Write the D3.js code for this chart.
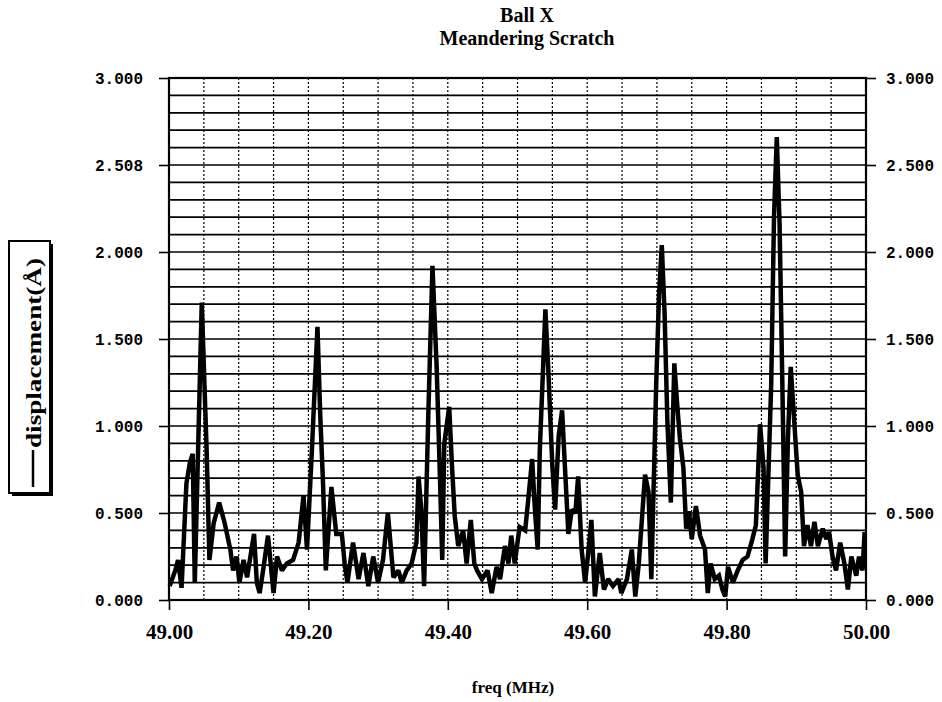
<!DOCTYPE html>
<html>
<head>
<meta charset="utf-8">
<script src="https://cdn.jsdelivr.net/npm/d3@7.9.0/dist/d3.min.js"></script>
<style>
  body { margin: 0; background: #fff; }
  svg { display: block; }
  .serif { font-family: "Liberation Serif", "Times New Roman", serif; font-weight: bold; }
  .mono { font-family: "Liberation Mono", "Courier New", monospace; font-weight: bold; }
</style>
</head>
<body>
<div id="chart"></div>
<script>
// values
const freq = [
  49.001, 49.009, 49.013, 49.018, 49.025, 49.030, 49.034, 49.037, 49.047, 49.054,
  49.058, 49.064, 49.072, 49.080, 49.088, 49.092, 49.097, 49.101, 49.107, 49.112,
  49.122, 49.126, 49.130, 49.135, 49.142, 49.150, 49.155, 49.162, 49.169, 49.178,
  49.186, 49.193, 49.198, 49.205, 49.213, 49.217, 49.221, 49.225, 49.233, 49.240,
  49.248, 49.252, 49.256, 49.264, 49.272, 49.279, 49.286, 49.293, 49.300, 49.307,
  49.314, 49.322, 49.329, 49.334, 49.341, 49.348, 49.355, 49.358, 49.362, 49.366,
  49.372, 49.378, 49.384, 49.389, 49.392, 49.395, 49.402, 49.406, 49.410, 49.415,
  49.422, 49.427, 49.433, 49.438, 49.442, 49.449, 49.457, 49.463, 49.470, 49.475,
  49.482, 49.487, 49.491, 49.496, 49.503, 49.511, 49.515, 49.521, 49.525, 49.529,
  49.532, 49.540, 49.544, 49.550, 49.554, 49.559, 49.564, 49.568, 49.573, 49.578,
  49.583, 49.587, 49.592, 49.597, 49.602, 49.606, 49.611, 49.618, 49.624, 49.630,
  49.637, 49.645, 49.649, 49.657, 49.664, 49.669, 49.674, 49.683, 49.688, 49.692,
  49.699, 49.703, 49.707, 49.711, 49.715, 49.720, 49.725, 49.729, 49.733, 49.738,
  49.742, 49.746, 49.750, 49.756, 49.762, 49.769, 49.773, 49.777, 49.783, 49.789,
  49.794, 49.798, 49.802, 49.809, 49.816, 49.823, 49.830, 49.837, 49.842, 49.848,
  49.853, 49.856, 49.864, 49.868, 49.872, 49.876, 49.880, 49.884, 49.888, 49.892,
  49.897, 49.902, 49.907, 49.911, 49.916, 49.921, 49.926, 49.931, 49.938, 49.943,
  49.947, 49.952, 49.957, 49.963, 49.969, 49.974, 49.979, 49.986, 49.990, 49.995,
  49.998
];
const displacement = [
  0.08, 0.17, 0.23, 0.07, 0.67, 0.79, 0.84, 0.10, 1.71, 0.86,
  0.23, 0.44, 0.56, 0.44, 0.29, 0.17, 0.25, 0.10, 0.23, 0.13,
  0.38, 0.10, 0.04, 0.17, 0.37, 0.04, 0.25, 0.17, 0.21, 0.23,
  0.33, 0.60, 0.29, 0.86, 1.57, 1.06, 0.67, 0.17, 0.65, 0.38,
  0.38, 0.21, 0.10, 0.33, 0.12, 0.27, 0.08, 0.25, 0.10, 0.23,
  0.50, 0.13, 0.17, 0.10, 0.17, 0.21, 0.33, 0.71, 0.52, 0.08,
  1.06, 1.92, 1.34, 0.67, 0.23, 0.90, 1.11, 0.77, 0.48, 0.31,
  0.40, 0.21, 0.46, 0.21, 0.17, 0.12, 0.17, 0.04, 0.19, 0.12,
  0.31, 0.21, 0.37, 0.21, 0.42, 0.40, 0.56, 0.81, 0.52, 0.29,
  0.86, 1.67, 1.34, 0.77, 0.52, 0.94, 1.09, 0.77, 0.38, 0.52,
  0.50, 0.71, 0.29, 0.10, 0.29, 0.46, 0.02, 0.27, 0.06, 0.12,
  0.08, 0.12, 0.04, 0.12, 0.29, 0.02, 0.21, 0.72, 0.62, 0.12,
  1.24, 1.75, 2.04, 1.65, 1.03, 0.56, 1.36, 1.13, 0.93, 0.76,
  0.41, 0.51, 0.35, 0.54, 0.37, 0.29, 0.04, 0.21, 0.12, 0.14,
  0.06, 0.02, 0.19, 0.10, 0.17, 0.23, 0.25, 0.35, 0.43, 1.01,
  0.76, 0.21, 1.24, 2.20, 2.66, 2.16, 1.24, 0.25, 0.93, 1.34,
  1.03, 0.72, 0.62, 0.31, 0.43, 0.31, 0.45, 0.31, 0.41, 0.35,
  0.39, 0.25, 0.17, 0.33, 0.21, 0.06, 0.25, 0.14, 0.25, 0.17,
  0.39
];

const yTicks = [0, 0.5, 1.0, 1.5, 2.0, 2.5, 3.0];
const leftTickLabels = ["0.000", "0.500", "1.000", "1.500", "2.000", "2.508", "3.000"];
const rightTickLabels = ["0.000", "0.500", "1.000", "1.500", "2.000", "2.500", "3.000"];
const xTicks = [49.0, 49.2, 49.4, 49.6, 49.8, 50.0];
const xTickLabels = ["49.00", "49.20", "49.40", "49.60", "49.80", "50.00"];

const width = 942, height = 702;
const plotLeft = 169, plotRight = 866, plotTop = 78, plotBottom = 600;

const svg = d3.select("#chart").append("svg")
  .attr("width", width)
  .attr("height", height);

const x = d3.scaleLinear().domain([49, 50]).range([plotLeft, plotRight]);
const y = d3.scaleLinear().domain([0, 3]).range([plotBottom, plotTop]);

// grid: solid horizontals every 0.1, dotted verticals every 0.05
svg.append("g")
  .selectAll("line")
  .data(d3.range(1, 30))
  .join("line")
  .attr("x1", plotLeft).attr("x2", plotRight)
  .attr("y1", d => y(d / 10)).attr("y2", d => y(d / 10))
  .attr("stroke", "#000")
  .attr("stroke-width", 1.7);

svg.append("g")
  .selectAll("line")
  .data(d3.range(1, 20))
  .join("line")
  .attr("x1", d => x(49 + d / 20)).attr("x2", d => x(49 + d / 20))
  .attr("y1", plotTop).attr("y2", plotBottom)
  .attr("stroke", "#000")
  .attr("stroke-width", 1.2)
  .attr("stroke-dasharray", "2,2");

// frame
svg.append("rect")
  .attr("x", plotLeft).attr("y", plotTop)
  .attr("width", plotRight - plotLeft).attr("height", plotBottom - plotTop)
  .attr("fill", "none")
  .attr("stroke", "#000")
  .attr("stroke-width", 2.2);

// axes
const yLeft = d3.axisLeft(y)
  .tickValues(yTicks)
  .tickFormat((d, i) => leftTickLabels[i])
  .tickSize(10)
  .tickSizeOuter(0)
  .tickPadding(16);

const yRight = d3.axisRight(y)
  .tickValues(yTicks)
  .tickFormat((d, i) => rightTickLabels[i])
  .tickSize(10)
  .tickSizeOuter(0)
  .tickPadding(10);

const xBottom = d3.axisBottom(x)
  .tickValues(xTicks)
  .tickFormat((d, i) => xTickLabels[i])
  .tickSize(10)
  .tickSizeOuter(0)
  .tickPadding(14);

function styleAxis(g, cls, size) {
  g.select(".domain").remove();
  g.selectAll(".tick line").attr("stroke", "#000").attr("stroke-width", 1.6);
  g.selectAll(".tick text")
    .attr("class", cls)
    .attr("fill", "#000")
    .style("font-size", size + "px");
}

svg.append("g")
  .attr("transform", `translate(${plotLeft},0)`)
  .call(yLeft)
  .call(g => styleAxis(g, "mono", 16));

svg.append("g")
  .attr("transform", `translate(${plotRight},0)`)
  .call(yRight)
  .call(g => styleAxis(g, "mono", 16));

svg.append("g")
  .attr("transform", `translate(0,${plotBottom})`)
  .call(xBottom)
  .call(g => styleAxis(g, "serif", 21));

// the trace
const line = d3.line()
  .x((d, i) => x(freq[i]))
  .y(d => y(d));

svg.append("path")
  .datum(displacement)
  .attr("d", line)
  .attr("fill", "none")
  .attr("stroke", "#000")
  .attr("stroke-width", 4.5)
  .attr("stroke-linejoin", "miter")
  .attr("stroke-miterlimit", 2);

// titles
svg.append("text")
  .attr("class", "serif")
  .attr("x", 527).attr("y", 22)
  .attr("text-anchor", "middle")
  .style("font-size", "20px")
  .text("Ball X");

svg.append("text")
  .attr("class", "serif")
  .attr("x", 527).attr("y", 45)
  .attr("text-anchor", "middle")
  .style("font-size", "20px")
  .text("Meandering Scratch");

svg.append("text")
  .attr("class", "serif")
  .attr("x", 513).attr("y", 693)
  .attr("text-anchor", "middle")
  .style("font-size", "17px")
  .text("freq (MHz)");

// legend box with drop shadow
const legend = svg.append("g");
legend.append("rect")
  .attr("x", 12).attr("y", 244)
  .attr("width", 41).attr("height", 252)
  .attr("fill", "#000");
legend.append("rect")
  .attr("x", 9).attr("y", 241)
  .attr("width", 41).attr("height", 252)
  .attr("fill", "#fff")
  .attr("stroke", "#000")
  .attr("stroke-width", 2);
legend.append("line")
  .attr("x1", 33).attr("x2", 33)
  .attr("y1", 487).attr("y2", 450)
  .attr("stroke", "#000")
  .attr("stroke-width", 2.5);
legend.append("text")
  .attr("class", "serif")
  .attr("transform", "translate(33,448) rotate(-90)")
  .attr("dominant-baseline", "central")
  .attr("textLength", 190)
  .attr("lengthAdjust", "spacingAndGlyphs")
  .style("font-size", "22px")
  .text("displacement(Å)");
</script>
</body>
</html>
